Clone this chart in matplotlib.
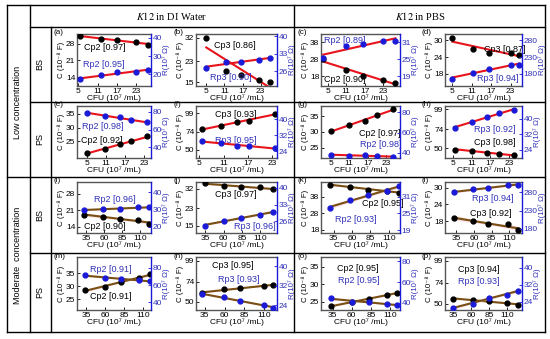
import matplotlib.pyplot as plt
from matplotlib.lines import Line2D
import numpy as np

plt.rcParams['font.family'] = ['Liberation Sans', 'DejaVu Sans']
plt.rcParams['mathtext.fontset'] = 'stix'

W, H = 550, 339

tags = ['(a)', '(b)', '(c)', '(d)', '(e)', '(f)', '(g)', '(h)',
        '(i)', '(j)', '(k)', '(l)', '(m)', '(n)', '(o)', '(p)']

# CFU (10^7 /mL) of each point, panel by panel
cfu = [
    [5.5, 12, 17, 23, 26.5], [5, 11.5, 16.5, 22.5, 26], [3.5, 11, 16.5, 23, 27], [5, 11.3, 16.3, 23, 25.7],
    [5, 10.5, 15.5, 19, 24], [5.6, 10.3, 14.3, 17.2, 23.6], [5, 10.8, 16.2, 20.1, 25.2], [5.5, 11.2, 16, 19.7, 24.6],
    [33, 59, 82, 107.5, 122], [34, 60, 83, 110, 128], [30.7, 57.7, 81, 108, 123], [32, 59, 80, 107.5, 122.5],
    [34, 60, 81, 105, 119.5], [32, 59, 80, 109, 121], [33, 60, 82, 106, 119], [35, 63, 85, 110, 125],
]

# capacitance (10^-8 F)
cap = [
    [31.1, 30.2, 29.7, 28.7, 27.6], [32, 19.5, 18, 16, 15], [28, 21.6, 18, 16, 14.2], [30.8, 26.8, 25.6, 25.6, 24.8],
    [20.9, 22.1, 23.9, 25, 26.8], [77.4, 81.4, 86.8, 88.8, 97.8], [30.2, 32.3, 33.4, 35.3, 37.2], [48.4, 47.2, 44.3, 43, 41],
    [19.2, 18.2, 17.2, 17.1, 15.4], [34.5, 33.5, 32.8, 32.8, 31.7], [45.4, 44, 42.4, 41.6, 40.6], [19.2, 18, 16.8, 16.8, 14.9],
    [28.5, 29.7, 31.7, 33.2, 34.5], [60.8, 64.8, 66, 69.2, 70], [23.8, 25, 25.7, 26.9, 27.6], [56, 54, 52.8, 51.2, 48.8],
]

# resistance (10^7 Ohm)
res = [
    [17.4, 19.3, 21, 21.3, 22.4], [27.3, 29.6, 29.7, 30.4, 31.3], [25.5, 29.8, 30.6, 31.6, 31.6], [166, 184, 196, 207, 207],
    [79, 75.6, 73.9, 70.5, 68.1], [28.8, 28.2, 26.7, 26.3, 25.5], [38.3, 37.3, 37.7, 36.7, 36.3], [35.5, 38.3, 41.2, 43.2, 44.5],
    [29.6, 30.2, 30.2, 31.1, 31.1], [24.2, 26.3, 27.4, 28.8, 29.8], [27, 29.9, 31.6, 32.9, 34.7], [280, 289, 290.6, 300, 300],
    [71.5, 68.5, 67, 65.8, 64.6], [28.5, 27.2, 25.8, 24, 23], [44.2, 41, 41, 38.7, 37.7], [21.3, 23.2, 26, 27.3, 29.3],
]

cap_r = [0.97, 0.86, 0.90, 0.87, 0.92, 0.93, 0.97, 0.98, 0.90, 0.97, 0.95, 0.92, 0.91, 0.95, 0.95, 0.94]
res_r = [0.95, 0.90, 0.89, 0.94, 0.98, 0.95, 0.98, 0.92, 0.96, 0.96, 0.93, 0.94, 0.91, 0.93, 0.95, 0.93]

cap_ticks = [[14, 21, 28], [15, 23, 32], [18, 28, 38], [18, 24, 30],
             [25, 30, 35], [50, 74, 99], [25, 30, 35], [50, 74, 99]] * 2
res_ticks = [[20, 30, 40], [26, 33, 40], [19, 25, 31], [180, 230, 280],
             [40, 60, 80], [24, 32, 40], [40, 60, 80], [24, 32, 40]] * 2
low_ticks = [5, 11, 17, 23]
mod_ticks = [35, 60, 85, 110]

cap_lim = [(10.3, 32.1), (13.6, 33.5), (12.4, 43), (13.7, 32.3),
           (19, 37.8), (38.6, 108.4), (21.8, 38.2), (37.8, 103),
           (11.4, 33), (11.8, 35.1), (16, 47), (13.7, 32),
           (20.9, 41.2), (40, 103.8), (22.7, 37.7), (43, 103)]
res_lim = [(13.5, 42.2), (20, 40.9), (15.6, 34), (144, 299),
           (27.6, 86.8), (20.5, 46.6), (35, 86), (19.7, 46.7),
           (16.3, 45.8), (21.1, 42.4), (18, 36.2), (169, 308),
           (31.2, 92.7), (22, 43.9), (33, 84.2), (20.2, 45)]
x_lim = [(4.6, 27.5), (1.6, 28.4), (2.8, 28.5), (2.7, 26.5),
         (1.8, 25.2), (4.2, 24.2), (1.8, 27.5), (2.4, 27.2),
         (22.7, 125.3), (22, 133), (18, 125), (19, 128),
         (23, 121), (24, 126), (20, 123), (24, 131)]

# text positions (axes fraction) of the C and R annotations
cap_txt = [(0.09, 0.74), (0.22, 0.78), (0.04, 0.13), (0.5, 0.71),
           (0.05, 0.33), (0.23, 0.83), (0.48, 0.48), (0.375, 0.29),
           (0.09, 0.12), (0.23, 0.76), (0.52, 0.58), (0.33, 0.38),
           (0.17, 0.25), (0.2, 0.84), (0.2, 0.79), (0.17, 0.77)]
res_txt = [(0.08, 0.41), (0.17, 0.16), (0.04, 0.87), (0.41, 0.14),
           (0.07, 0.6), (0.23, 0.33), (0.5, 0.26), (0.375, 0.54),
           (0.23, 0.66), (0.47, 0.13), (0.18, 0.26), (0.35, 0.67),
           (0.18, 0.77), (0.27, 0.57), (0.22, 0.56), (0.17, 0.54)]

col_x = [(77, 151), (196, 277), (321, 400), (445, 522)]
row_y = [(34, 86), (106, 158), (182, 233), (257, 310)]

BLUE = '#1a1ad8'
TXTBLUE = '#3030b8'
RED = '#e8141c'
BROWN = '#7a4f14'
PINK = '#f7c9d2'
FS = 6.0

fig = plt.figure(figsize=(W / 100, H / 100), dpi=100)


def hline(y, x0, x1):
    fig.add_artist(Line2D([x0 / W, x1 / W], [1 - y / H, 1 - y / H], color='k', lw=1.0))


def vline(x, y0, y1):
    fig.add_artist(Line2D([x / W, x / W], [1 - y0 / H, 1 - y1 / H], color='k', lw=1.0))


# table frame
hline(5, 7, 545)
hline(332, 7, 545)
hline(27, 30, 545)
hline(102, 30, 545)
hline(177, 7, 545)
hline(253, 30, 545)
vline(7, 5, 332)
vline(545, 5, 332)
vline(30, 5, 332)
vline(51, 27, 332)
vline(294, 5, 332)

fig.text(172 / W, 1 - 16 / H, r'$\mathit{K12}$ in DI Water', family='Liberation Serif',
         size=7.5, ha='center', va='center')
fig.text(420 / W, 1 - 16 / H, r'$\mathit{K12}$ in PBS', family='Liberation Serif',
         size=7.5, ha='center', va='center')
fig.text(18 / W, 1 - 102 / H, 'Low concentration', rotation=90, size=6.5, ha='center', va='center')
fig.text(18 / W, 1 - 255 / H, 'Moderate  concentration', rotation=90, size=6.5, ha='center', va='center')
for yy, s in [(64, 'BS'), (139, 'PS'), (215, 'BS'), (292, 'PS')]:
    fig.text(40 / W, 1 - yy / H, s, rotation=90, size=6.5, ha='center', va='center')


def fit(ax, x, y, color, band):
    p = np.polyfit(x, y, 1)
    xx = np.linspace(min(x), max(x), 60)
    yy = np.polyval(p, xx)
    if band:
        n = len(x)
        xm = np.mean(x)
        s = np.sqrt(np.sum((np.array(y) - np.polyval(p, x)) ** 2) / (n - 2))
        se = s * np.sqrt(1 / n + (xx - xm) ** 2 / np.sum((np.array(x) - xm) ** 2))
        ax.fill_between(xx, yy - 2.0 * se, yy + 2.0 * se, color=PINK, alpha=0.55, lw=0, zorder=1)
    ax.plot(xx, yy, color=color, lw=1.5, zorder=2)


for k in range(16):
    row, col = k // 4, k % 4
    (l, r), (t, b) = col_x[col], row_y[row]
    ax = fig.add_axes([l / W, 1 - b / H, (r - l) / W, (b - t) / H])
    ax2 = ax.twinx()
    moderate = row >= 2
    lc = BROWN if moderate else RED
    suffix = '3' if col % 2 else '2'

    fit(ax, cfu[k], cap[k], lc, moderate)
    ax.plot(cfu[k], cap[k], 'o', color='k', ms=3.5, zorder=3)
    fit(ax2, cfu[k], res[k], lc, moderate)
    ax2.plot(cfu[k], res[k], 'o', color=BLUE, ms=3.5, zorder=3)

    ax.set_xlim(x_lim[k])
    ax.set_ylim(cap_lim[k])
    ax2.set_ylim(res_lim[k])
    ax.set_xticks(mod_ticks if moderate else low_ticks)
    ax.set_yticks(cap_ticks[k])
    ax2.set_yticks(res_ticks[k])

    ax.tick_params(direction='in', length=2, width=0.6, labelsize=FS, pad=1.2)
    ax2.tick_params(direction='in', length=2, width=0.6, labelsize=FS, pad=1.2,
                    colors=BLUE, labelcolor=TXTBLUE)
    for sp in ['left', 'top', 'bottom']:
        ax.spines[sp].set_color('#555555')
        ax.spines[sp].set_linewidth(1.0)
        ax2.spines[sp].set_visible(False)
    ax2.spines['right'].set_color(BLUE)
    ax2.spines['right'].set_linewidth(1.0)
    ax.spines['right'].set_visible(False)

    ax.set_xlabel('CFU (10\u2077 /mL)', size=FS, labelpad=0)
    ax.set_ylabel('C (10\u207b\u2078 F)', size=5.7, labelpad=0.5)
    ax2.set_ylabel('R(10\u2077 \u03a9)', size=5.7, labelpad=0.5, color=TXTBLUE)

    ax.text(cap_txt[k][0], cap_txt[k][1], 'Cp%s [%.2f]' % (suffix, cap_r[k]),
            transform=ax.transAxes, size=6.5, ha='left', va='center', zorder=5)
    ax.text(res_txt[k][0], res_txt[k][1], 'Rp%s [%.2f]' % (suffix, res_r[k]),
            transform=ax.transAxes, size=6.5, ha='left', va='center', color=TXTBLUE, zorder=5)
    fig.text((l - 23) / W, 1 - (t - 1) / H, tags[k], size=5.8, ha='left', va='center')

fig.savefig('out.png', dpi=100)
